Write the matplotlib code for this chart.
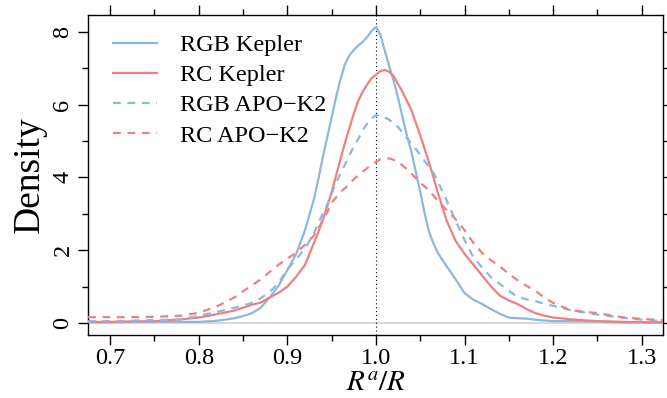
import matplotlib
matplotlib.use("Agg")
import matplotlib.pyplot as plt
from matplotlib.ticker import MultipleLocator

plt.rcParams['font.family'] = ['Liberation Serif', 'DejaVu Serif']
plt.rcParams['mathtext.fontset'] = 'stix'

x = [0.675, 0.70, 0.72, 0.75, 0.78, 0.80, 0.82, 0.84, 0.85,
     0.86, 0.87, 0.88, 0.89, 0.90, 0.91, 0.92, 0.93,
     0.935, 0.94, 0.945, 0.95, 0.955, 0.96, 0.965, 0.97, 0.975, 0.98,
     0.985, 0.99, 0.995, 1.00, 1.005, 1.01, 1.015, 1.02, 1.025, 1.03,
     1.035, 1.04, 1.045, 1.05, 1.055, 1.06, 1.065, 1.07, 1.075, 1.08,
     1.09, 1.10, 1.11, 1.12, 1.13, 1.14, 1.15, 1.16, 1.17, 1.18, 1.19, 1.20,
     1.22, 1.25, 1.28, 1.30, 1.325]

rgb_kepler = [0.02, 0.02, 0.03, 0.04, 0.03, 0.03, 0.06, 0.13, 0.19,
              0.27, 0.42, 0.70, 1.02, 1.45, 1.90, 2.55, 3.40,
              3.95, 4.55, 5.10, 5.65, 6.20, 6.70, 7.10, 7.35, 7.50, 7.62,
              7.72, 7.85, 8.02, 8.13, 7.92, 7.48, 7.05, 6.65, 6.18, 5.65,
              5.15, 4.70, 4.15, 3.60, 3.00, 2.50, 2.18, 1.92, 1.73, 1.55,
              1.20, 0.82, 0.64, 0.52, 0.38, 0.25, 0.15, 0.13, 0.12, 0.09, 0.07, 0.05,
              0.05, 0.04, 0.02, 0.02, 0.01]

rc_kepler = [0.03, 0.03, 0.04, 0.05, 0.10, 0.15, 0.24, 0.34, 0.42,
             0.50, 0.56, 0.70, 0.83, 1.00, 1.27, 1.60, 2.20,
             2.50, 2.83, 3.20, 3.60, 4.05, 4.50, 4.95, 5.35, 5.75, 6.10,
             6.35, 6.55, 6.72, 6.82, 6.92, 6.95, 6.90, 6.78, 6.56, 6.35,
             6.10, 5.85, 5.50, 5.15, 4.78, 4.40, 4.00, 3.57, 3.18, 2.80,
             2.25, 1.90, 1.60, 1.30, 1.00, 0.75, 0.62, 0.52, 0.38, 0.27, 0.20, 0.15,
             0.10, 0.05, 0.03, 0.02, 0.02]

rgb_apok2 = [0.05, 0.05, 0.06, 0.08, 0.10, 0.20, 0.30, 0.42, 0.48,
             0.55, 0.68, 0.85, 1.10, 1.47, 1.75, 2.05, 2.45,
             2.75, 3.00, 3.25, 3.55, 3.85, 4.10, 4.35, 4.60, 4.85, 5.05,
             5.30, 5.47, 5.62, 5.71, 5.70, 5.65, 5.58, 5.48, 5.38, 5.23,
             5.08, 4.92, 4.78, 4.62, 4.45, 4.28, 4.12, 3.88, 3.62, 3.35,
             2.80, 2.28, 1.80, 1.52, 1.25, 1.07, 0.88, 0.72, 0.65, 0.60, 0.53, 0.47,
             0.35, 0.23, 0.14, 0.09, 0.05]

rc_apok2 = [0.16, 0.16, 0.16, 0.17, 0.20, 0.28, 0.45, 0.70, 0.87,
            1.03, 1.20, 1.40, 1.60, 1.77, 1.93, 2.15, 2.40,
            2.60, 2.82, 3.05, 3.30, 3.45, 3.60, 3.70, 3.82, 3.95, 4.05,
            4.15, 4.25, 4.35, 4.42, 4.50, 4.52, 4.52, 4.48, 4.42, 4.33,
            4.22, 4.10, 3.98, 3.85, 3.75, 3.63, 3.50, 3.35, 3.22, 3.10,
            2.85, 2.55, 2.20, 1.92, 1.72, 1.55, 1.35, 1.17, 1.02, 0.88, 0.70, 0.55,
            0.35, 0.27, 0.15, 0.11, 0.08]

labels = ["RGB Kepler", "RC Kepler", "RGB APO\u2212K2", "RC APO\u2212K2"]
blue = "#8db8de"
red = "#f08080"

fig = plt.figure(figsize=(6.67, 3.98), dpi=100)
ax = fig.add_axes([88/667, 63/398, 575/667, 320/398])

ax.axhline(0, color="#d9d9d9", lw=1.5, zorder=1)
ax.axvline(1.0, color="black", lw=0.8, ls=(0, (1, 2.5)), zorder=1)

lw = 1.6
ax.plot(x, rgb_kepler, color=blue, lw=lw, label=labels[0], zorder=3)
ax.plot(x, rc_kepler, color=red, lw=lw, label=labels[1], zorder=3)
ax.plot(x, rgb_apok2, color=blue, lw=lw, ls=(0, (3.5, 3)), label=labels[2], zorder=3)
ax.plot(x, rc_apok2, color=red, lw=lw, ls=(0, (3.5, 3)), label=labels[3], zorder=3)

ax.xaxis.set_major_locator(MultipleLocator(0.1))
ax.xaxis.set_minor_locator(MultipleLocator(0.05))
ax.yaxis.set_major_locator(MultipleLocator(2))
ax.yaxis.set_minor_locator(MultipleLocator(1))
ax.tick_params(which='both', direction='out', top=True, right=True,
               labelsize=17.5, width=1.0, color='black')
ax.tick_params(which='major', length=7)
ax.tick_params(which='minor', length=4.5)
ax.tick_params(axis='x', which='major', pad=2.5)
xt = [0.7, 0.8, 0.9, 1.0, 1.1, 1.2, 1.3]
yt = [0, 2, 4, 6, 8]
ax.set_xticks(xt)
ax.set_xticklabels([f"{v:.1f}" for v in xt])
ax.set_yticks(yt)
ax.set_yticklabels([str(v) for v in yt], rotation=90, va='center')
ax.set_xlim(0.675, 1.324)
ax.set_ylim(-0.33, 8.46)
for s in ax.spines.values():
    s.set_linewidth(1.0)

ax.set_ylabel("Density", fontsize=27, labelpad=4)
ax.set_xlabel("$R^a/R$", fontsize=21, va='baseline')
ax.xaxis.set_label_coords(0.5, -0.176)

ax.legend(loc='upper left', frameon=False, fontsize=17.5, handlelength=1.8,
          handletextpad=0.95, labelspacing=0.33, borderaxespad=0.2,
          bbox_to_anchor=(0.018, 0.985))

fig.savefig("out.png", dpi=100)
